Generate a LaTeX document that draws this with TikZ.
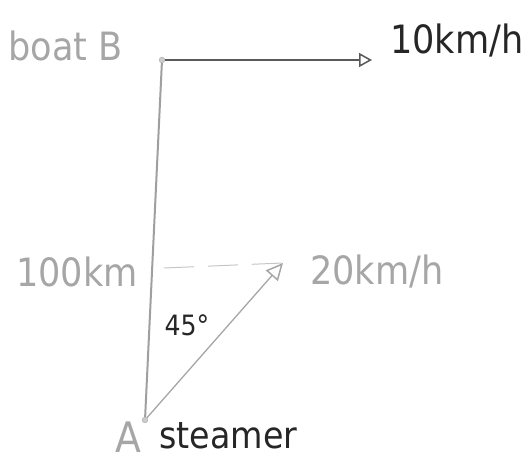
\documentclass[tikz,border=0pt]{standalone}
\usepackage{fontspec}
\setmainfont{DejaVu Sans Condensed}
\usepackage{tikz}
\usetikzlibrary{arrows.meta,positioning,calc}

\begin{document}
\begin{tikzpicture}[x=1pt, y=-1pt,
    pt/.style={circle, draw=gray!70, fill=gray!40, inner sep=2pt},
    lbl/.style={font=\fontsize{39}{39}\selectfont, text=gray!70, inner sep=0pt},
    lbldark/.style={lbl, text=black!85},
    vel/.style={-{Triangle[open, length=13pt, width=14pt, line width=1.5pt]}, line width=1.3pt, draw=gray!70},
    dist/.style={line width=2pt, draw=gray!75}
  ]
  \useasboundingbox (0,0) rectangle (528,465);
  % the two boats
  \node[pt] (B) at (162,60) {};
  \node[pt] (A) at (145,420) {};
  \coordinate (vB) at (372,60);
  \coordinate (vA) at (283,263);
  \coordinate (lvl) at (164,268);

  \draw[dist] (A) -- (B);
  \draw[vel, draw=black!65] (B) -- (vB);
  \draw[vel, -{Triangle[open, length=17pt, width=16pt, line width=1.5pt]}] (A) -- (vA);
  \draw[dash pattern=on 30pt off 14pt, draw=gray!45, line width=1pt] (lvl) -- (vA);

  \node[lbl, left=36pt of B, yshift=14pt] (boat) {boat B};
  \node[lbldark, right=18pt of vB, yshift=20pt] (vbl) {10km/h};
  \node[lbl, left=26pt of lvl, yshift=-4pt] (d) {100km};
  \node[lbl, right=27pt of vA, yshift=-8pt] (val) {20km/h};
  \node[lbldark, font=\fontsize{28}{28}\selectfont] (ang) at (187,325) {45°};
  \node[lbl, font=\fontsize{42}{42}\selectfont] (la) at (128,437) {A};
  \node[lbldark, font=\fontsize{37}{37}\selectfont, right=18pt of la, yshift=1pt] (st) {steamer};
\end{tikzpicture}
\end{document}
